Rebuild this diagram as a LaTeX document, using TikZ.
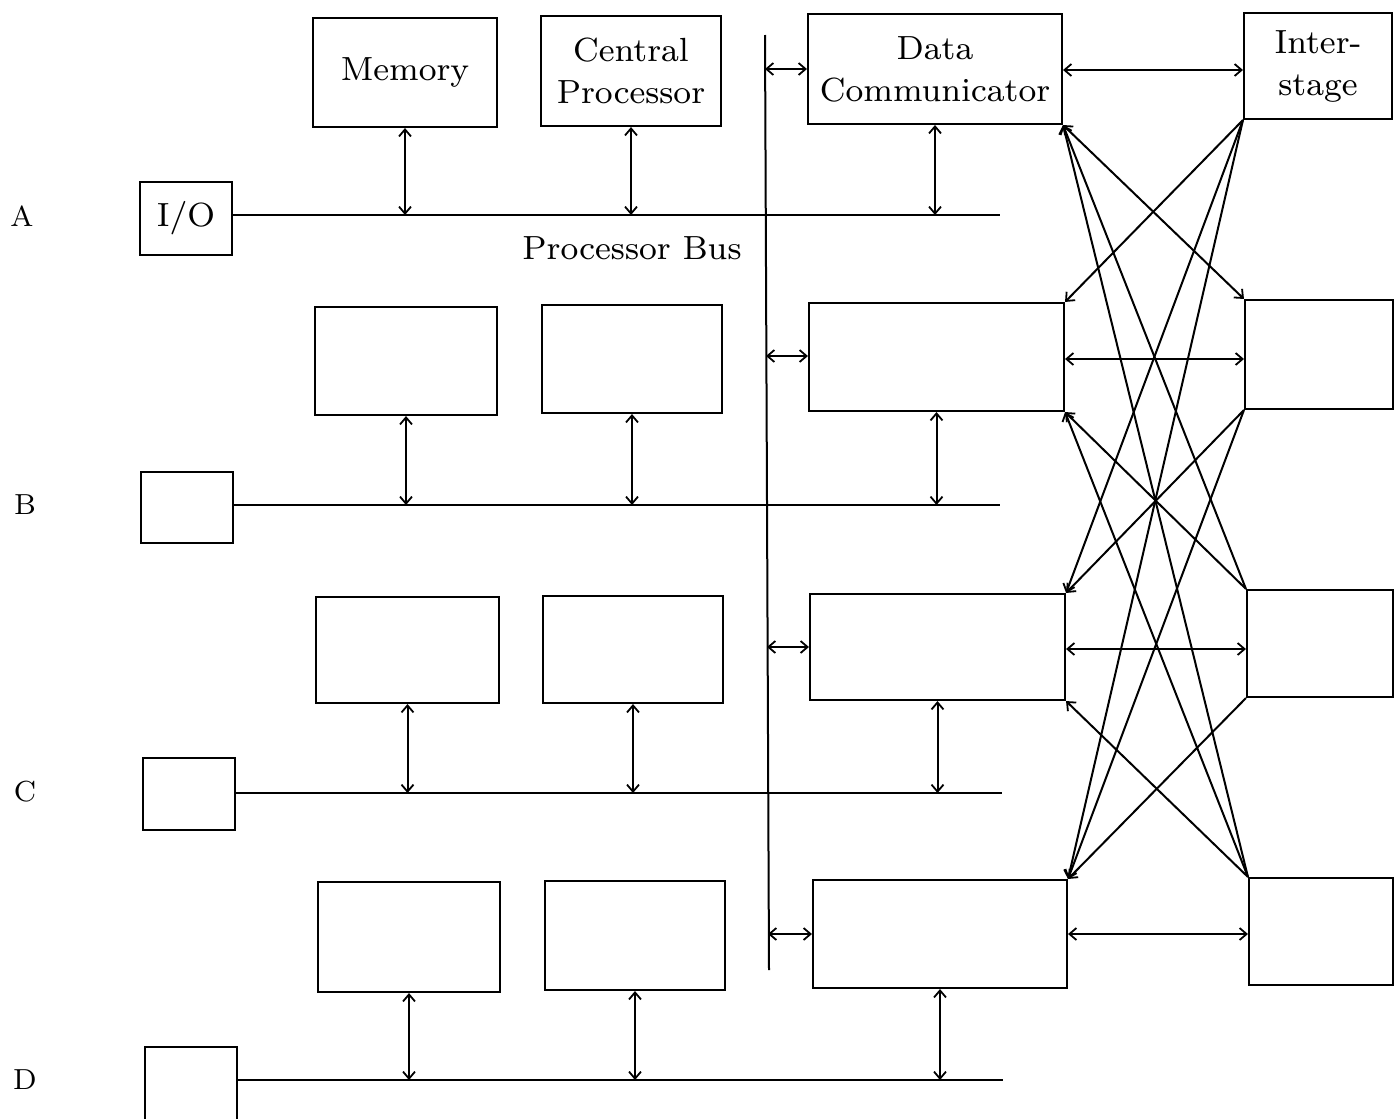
\documentclass[tikz,border=0pt]{standalone}
\usepackage{fontspec}
\setmainfont{lmroman8-regular.otf}
\usetikzlibrary{arrows.meta}
\begin{document}
\begin{tikzpicture}[x=1pt,y=-1pt,
  box/.style={draw, line width=2.1pt, inner sep=0pt, align=center, font=\fontsize{33.5}{42}\selectfont},
  conn/.style={line width=2pt},
  dbl/.style={conn, {Straight Barb[length=7pt,width=12pt,line width=1.8pt]}-{Straight Barb[length=7pt,width=12pt,line width=1.8pt]}},
  tipst/.style={conn, {Straight Barb[length=7pt,width=12pt,line width=1.8pt]}-},
  tipend/.style={conn, -{Straight Barb[length=7pt,width=12pt,line width=1.8pt]}},
  lbl/.style={font=\fontsize{29}{34}\selectfont},
  txt/.style={font=\fontsize{33.5}{40}\selectfont}]
\useasboundingbox (0,0) rectangle (1395,1119);
\fill[white] (0,0) rectangle (1395,1119);

% Row A
\node[box, minimum width=184pt, minimum height=109pt] (m1) at (405,72.5) {Memory};
\node[box, minimum width=180pt, minimum height=110pt] (c1) at (631,71) {Central\\Processor};
\node[box, minimum width=254pt, minimum height=110pt] (d1) at (935,69) {Data\\Communicator};
\node[box, minimum width=148pt, minimum height=106pt] (s1) at (1318,66) {Inter-\\stage};
\node[box, minimum width=92pt, minimum height=73pt] (io1) at (186,218.5) {I/O};
\node[lbl] (la) at (22,216) {A};
\node[txt] (pb) at (632,248) {Processor Bus};

% Row B
\node[box, minimum width=182pt, minimum height=108pt] (m2) at (406,361) {};
\node[box, minimum width=180pt, minimum height=108pt] (c2) at (632,359) {};
\node[box, minimum width=255pt, minimum height=108pt] (d2) at (936.5,357) {};
\node[box, minimum width=148pt, minimum height=109pt] (s2) at (1319,354.5) {};
\node[box, minimum width=92pt, minimum height=71pt] (io2) at (187,507.5) {};
\node[lbl] (lb) at (25,505) {B};

% Row C
\node[box, minimum width=183pt, minimum height=106pt] (m3) at (407.5,650) {};
\node[box, minimum width=180pt, minimum height=107pt] (c3) at (633,649.5) {};
\node[box, minimum width=255pt, minimum height=106pt] (d3) at (937.5,647) {};
\node[box, minimum width=146pt, minimum height=107pt] (s3) at (1320,643.5) {};
\node[box, minimum width=92pt, minimum height=72pt] (io3) at (189,794) {};
\node[lbl] (lc) at (25,792) {C};

% Row D
\node[box, minimum width=182pt, minimum height=110pt] (m4) at (409,937) {};
\node[box, minimum width=180pt, minimum height=109pt] (c4) at (635,935.5) {};
\node[box, minimum width=254pt, minimum height=108pt] (d4) at (940,934) {};
\node[box, minimum width=144pt, minimum height=107pt] (s4) at (1321,931.5) {};
\node[box, minimum width=92pt, minimum height=76pt] (io4) at (191,1085) {};
\node[lbl] (ld) at (25,1080) {D};

% bus end points
\coordinate (ea) at (1000,215);
\coordinate (eb) at (1000,505);
\coordinate (ec) at (1002,793);
\coordinate (ed) at (1003,1080);

% processor buses
\draw[conn] (io1.east |- ea) -- (ea);
\draw[conn] (io2.east |- eb) -- (eb);
\draw[conn] (io3.east |- ec) -- (ec);
\draw[conn] (io4.east |- ed) -- (ed);

% vertical connections to buses
\foreach \r/\e in {1/ea,2/eb,3/ec,4/ed}{
  \draw[dbl] (m\r.south) -- (m\r.south |- \e);
  \draw[dbl] (c\r.south) -- (c\r.south |- \e);
  \draw[dbl] (d\r.south) -- (d\r.south |- \e);
}

% global bus
\coordinate (gt) at (765,35);
\coordinate (gb) at (769,970);
\draw[conn] (gt) -- (gb);
\draw[dbl] (d1.west -| gt) -- (d1.west);
\draw[dbl] ([yshift=1pt]d2.west -| 766,0) -- ([yshift=1pt]d2.west);
\draw[dbl] (d3.west -| 767,0) -- (d3.west);
\draw[dbl] (d4.west -| 768,0) -- (d4.west);

% data communicator to interstage
\draw[dbl] ([yshift=-1pt]d1.east) -- ([yshift=-1pt]d1.east -| s1.west);
\draw[dbl] ([yshift=-2pt]d2.east) -- ([yshift=-2pt]d2.east -| s2.west);
\draw[dbl] ([yshift=-2pt]d3.east) -- ([yshift=-2pt]d3.east -| s3.west);
\draw[dbl] (d4.east) -- (d4.east -| s4.west);

% crossbar
\draw[dbl] (d1.south east) -- (s2.north west);
\draw[tipst] (d1.south east) -- (s3.north west);
\draw[tipst] (d1.south east) -- (s4.north west);
\draw[tipst] (d2.south east) -- (s3.north west);
\draw[tipst] (d2.south east) -- (s4.north west);
\draw[tipst] (d3.south east) -- (s4.north west);
\draw[tipend] (s1.south west) -- (d2.north east);
\draw[tipend] (s1.south west) -- (d3.north east);
\draw[tipend] (s1.south west) -- (d4.north east);
\draw[tipend] (s2.south west) -- (d3.north east);
\draw[tipend] (s2.south west) -- (d4.north east);
\draw[tipend] (s3.south west) -- (d4.north east);
\end{tikzpicture}
\end{document}
